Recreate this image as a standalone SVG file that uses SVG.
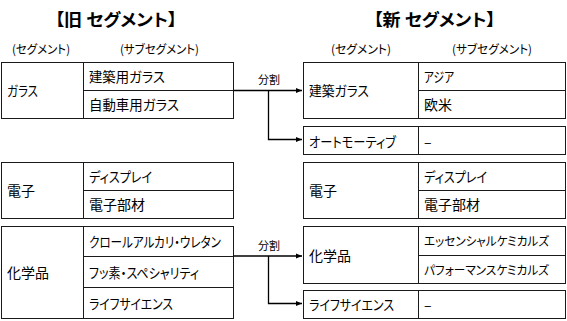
<svg xmlns="http://www.w3.org/2000/svg" width="567" height="321" viewBox="0 0 567 321">
<style>
text{font-family:"Noto Sans CJK JP","Noto Sans",sans-serif;fill:#000;font-feature-settings:"palt";}
.t{font-size:17px;font-weight:bold;text-anchor:middle;}
.h{font-size:12px;text-anchor:middle;}
.b{font-size:14px;}
.bs{font-size:12.5px;}
.lbl{font-size:11px;text-anchor:middle;}
.box{fill:#fff;stroke:#1a1a1a;stroke-width:1;}
.ln{fill:none;stroke:#1a1a1a;stroke-width:1;}
.con{fill:none;stroke:#000;stroke-width:1.3;marker-end:url(#arr);}
</style>
<defs>
<marker id="arr" markerUnits="userSpaceOnUse" markerWidth="6" markerHeight="6" refX="6" refY="3" orient="auto">
<path d="M0,0.5 L6,3 L0,5.5 z" fill="#000"/>
</marker>
</defs>
<rect width="567" height="321" fill="#fff"/>

<g id="titles">
<text class="t" x="116" y="26" textLength="122" lengthAdjust="spacingAndGlyphs">【旧 セグメント】</text>
<text class="t" x="434.5" y="26" textLength="122" lengthAdjust="spacingAndGlyphs">【新 セグメント】</text>
</g>
<g id="headers">
<text class="h" x="41" y="54" textLength="58" lengthAdjust="spacingAndGlyphs">(セグメント)</text>
<text class="h" x="159.5" y="54" textLength="79" lengthAdjust="spacingAndGlyphs">(サブセグメント)</text>
<text class="h" x="361" y="54" textLength="60" lengthAdjust="spacingAndGlyphs">(セグメント)</text>
<text class="h" x="492" y="54" textLength="80" lengthAdjust="spacingAndGlyphs">(サブセグメント)</text>
</g>

<g id="old-glass">
<rect class="box" x="1.5" y="62.5" width="232" height="56"/>
<path class="ln" d="M83.5 62.5 V118.5 M83.5 90.5 H233.5"/>
<text class="b" x="7" y="96" textLength="31" lengthAdjust="spacingAndGlyphs">ガラス</text>
<text class="b" x="89" y="82" textLength="76" lengthAdjust="spacingAndGlyphs">建築用ガラス</text>
<text class="b" x="89" y="110" textLength="90" lengthAdjust="spacingAndGlyphs">自動車用ガラス</text>
</g>

<g id="old-electronics">
<rect class="box" x="1.5" y="162.5" width="232" height="56"/>
<path class="ln" d="M83.5 162.5 V218.5 M83.5 190.5 H233.5"/>
<text class="b" x="7" y="196">電子</text>
<text class="b" x="89" y="182" textLength="63" lengthAdjust="spacingAndGlyphs">ディスプレイ</text>
<text class="b" x="89" y="210">電子部材</text>
</g>

<g id="old-chemicals">
<rect class="box" x="1.5" y="226.5" width="232" height="92"/>
<path class="ln" d="M83.5 226.5 V318.5 M83.5 256.5 H233.5 M83.5 287.5 H233.5"/>
<text class="b" x="7" y="278">化学品</text>
<text class="b" x="89" y="247" textLength="132" lengthAdjust="spacingAndGlyphs">クロールアルカリ・ウレタン</text>
<text class="b" x="89" y="277.5" textLength="110" lengthAdjust="spacingAndGlyphs">フッ素・スペシャリティ</text>
<text class="b" x="89" y="308.5" textLength="84" lengthAdjust="spacingAndGlyphs">ライフサイエンス</text>
</g>

<g id="new-architectural-glass">
<rect class="box" x="303.5" y="62.5" width="262" height="56"/>
<path class="ln" d="M418.5 62.5 V118.5 M418.5 90.5 H565.5"/>
<text class="b" x="309" y="96" textLength="60" lengthAdjust="spacingAndGlyphs">建築ガラス</text>
<text class="b" x="424" y="82" textLength="30" lengthAdjust="spacingAndGlyphs">アジア</text>
<text class="b" x="424" y="110">欧米</text>
</g>

<g id="new-automotive">
<rect class="box" x="303.5" y="126.5" width="262" height="28"/>
<path class="ln" d="M418.5 126.5 V154.5"/>
<text class="b" x="309" y="146.5" textLength="87" lengthAdjust="spacingAndGlyphs">オートモーティブ</text>
<text class="b" x="424" y="146.5">–</text>
</g>

<g id="new-electronics">
<rect class="box" x="303.5" y="162.5" width="262" height="56"/>
<path class="ln" d="M418.5 162.5 V218.5 M418.5 190.5 H565.5"/>
<text class="b" x="309" y="196">電子</text>
<text class="b" x="424" y="182" textLength="63" lengthAdjust="spacingAndGlyphs">ディスプレイ</text>
<text class="b" x="424" y="210">電子部材</text>
</g>

<g id="new-chemicals">
<rect class="box" x="303.5" y="226.5" width="262" height="57"/>
<path class="ln" d="M418.5 226.5 V283.5 M418.5 255.5 H565.5"/>
<text class="b" x="309" y="261">化学品</text>
<text class="bs" x="424" y="245.5" textLength="125" lengthAdjust="spacingAndGlyphs">エッセンシャルケミカルズ</text>
<text class="bs" x="424" y="274.5" textLength="125" lengthAdjust="spacingAndGlyphs">パフォーマンスケミカルズ</text>
</g>

<g id="new-life-science">
<rect class="box" x="303.5" y="290.5" width="262" height="28"/>
<path class="ln" d="M418.5 290.5 V318.5"/>
<text class="b" x="309" y="310" textLength="85" lengthAdjust="spacingAndGlyphs">ライフサイエンス</text>
<text class="b" x="424" y="310">–</text>
</g>

<g id="connectors">
<path class="con" d="M233.5 90.5 H302"/>
<path class="con" d="M268.5 90.5 V139.5 H302"/>
<text class="lbl" x="269" y="84">分割</text>
<path class="con" d="M233.5 256 H302"/>
<path class="con" d="M268.5 256 V303.5 H302"/>
<text class="lbl" x="269" y="250">分割</text>
</g>
</svg>
